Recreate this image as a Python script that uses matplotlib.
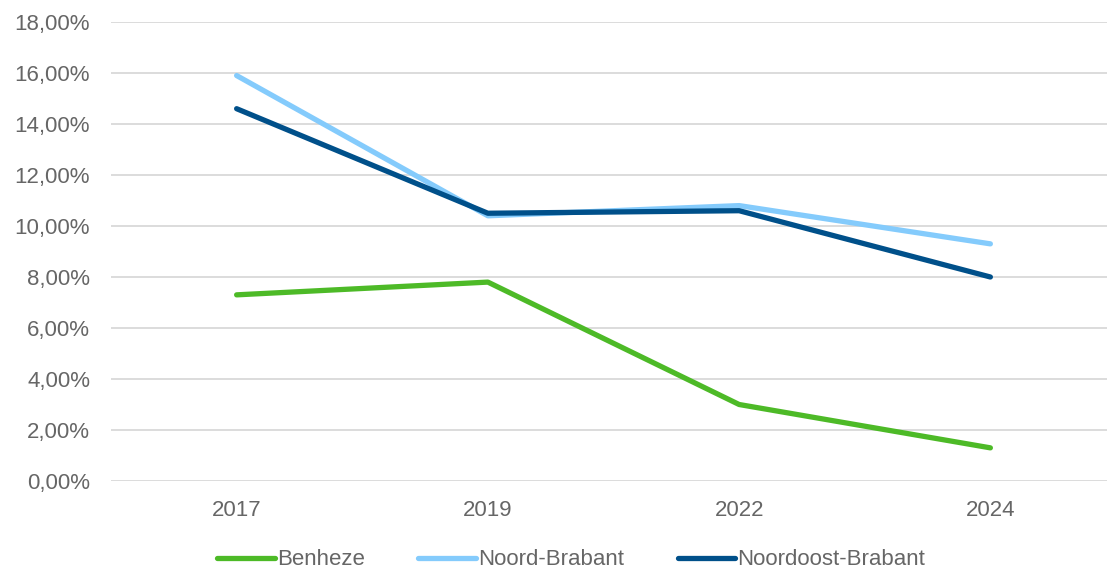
import matplotlib.pyplot as plt
from matplotlib.ticker import FuncFormatter

plt.rcParams['font.family'] = ['Liberation Sans', 'DejaVu Sans']

# data (percent)
years = ['2017', '2019', '2022', '2024']
benheze = [7.3, 7.8, 3.0, 1.3]
noord_brabant = [15.9, 10.4, 10.8, 9.3]
noordoost_brabant = [14.6, 10.5, 10.6, 8.0]

text_color = '#666666'

fig = plt.figure(figsize=(11.07, 5.71), dpi=100)
# plot area in figure coords (left, bottom, width, height)
ax = fig.add_axes([111 / 1107, 1 - 481 / 571, 1005 / 1107, 459 / 571])

x = range(len(years))
ax.plot(x, benheze, color='#4DBA27', lw=3.8, label='Benheze', solid_capstyle='round')
ax.plot(x, noord_brabant, color='#84CBFC', lw=3.8, label='Noord-Brabant', solid_capstyle='round')
ax.plot(x, noordoost_brabant, color='#00508A', lw=3.8, label='Noordoost-Brabant', solid_capstyle='round')

ax.set_xlim(-0.5, len(years) - 0.5)
ax.set_ylim(0, 18)
ax.set_yticks(range(0, 19, 2))
ax.yaxis.set_major_formatter(FuncFormatter(lambda v, p: f'{v:.2f}'.replace('.', ',') + '%'))
ax.set_xticks(list(x))
ax.set_xticklabels(years)

ax.grid(axis='y', color='#D9D9D9', lw=1.3)
ax.set_axisbelow(True)
for s in ax.spines.values():
    s.set_visible(False)
ax.tick_params(axis='both', length=0, labelsize=16, colors=text_color)
ax.tick_params(axis='y', pad=15)
ax.tick_params(axis='x', pad=14)

leg = ax.legend(loc='center', bbox_to_anchor=(0.458, -0.172), ncol=3, frameon=False,
                fontsize=16, handlelength=2.6, handletextpad=0.1, columnspacing=2.4,
                labelcolor=text_color)

fig.savefig('out.png', dpi=100)
